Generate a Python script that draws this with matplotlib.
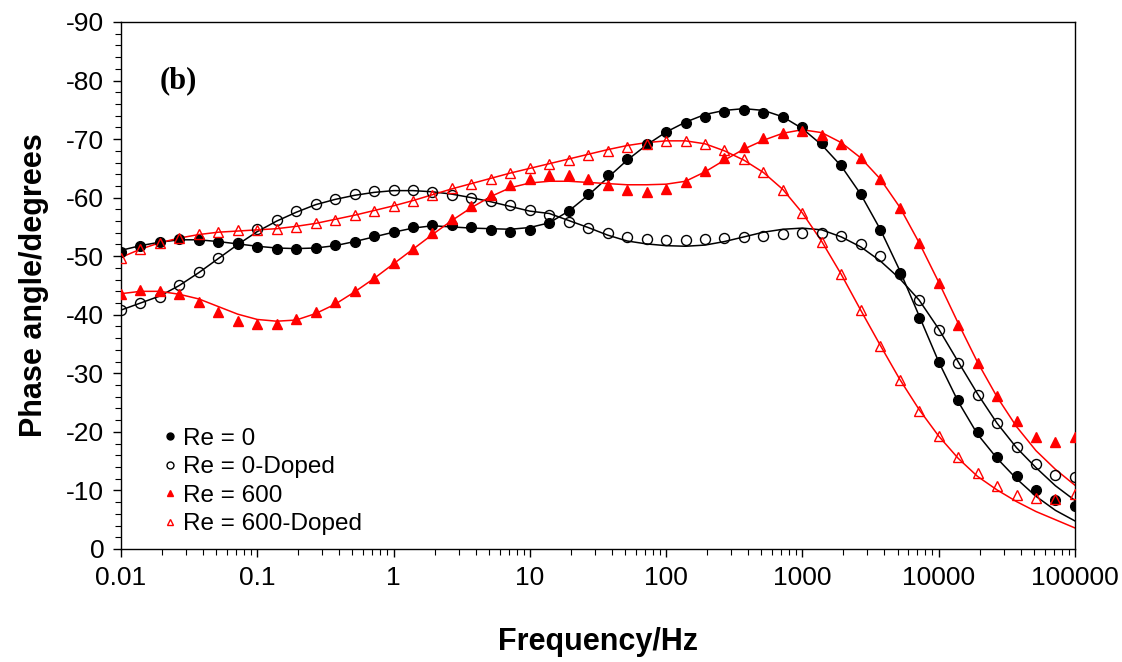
import numpy as np
import matplotlib.pyplot as plt
from matplotlib.lines import Line2D
from matplotlib.ticker import MultipleLocator, LogLocator, NullFormatter

plt.rcParams['font.family'] = ['Liberation Sans', 'DejaVu Sans']
plt.rcParams['axes.unicode_minus'] = False

# measurement frequencies, 7 points per decade
freq = [0.01, 0.0139, 0.0193, 0.0268, 0.0373, 0.0518, 0.072,
        0.1, 0.139, 0.193, 0.268, 0.373, 0.518, 0.72,
        1, 1.39, 1.93, 2.68, 3.73, 5.18, 7.2,
        10, 13.9, 19.3, 26.8, 37.3, 51.8, 72,
        100, 139, 193, 268, 373, 518, 720,
        1000, 1390, 1930, 2680, 3730, 5180, 7200,
        10000, 13900, 19300, 26800, 37300, 51800, 72000,
        100000]

# measured phase angles (degrees)
re0 = -np.array([50.8, 51.7, 52.4, 52.9, 52.7, 52.4, 52.0, 51.5, 51.3, 51.2, 51.4, 51.9,
                 52.5, 53.4, 54.2, 55.0, 55.4, 55.3, 55.0, 54.5, 54.1, 54.4,
                 55.6, 57.8, 60.6, 63.8, 66.6, 69.2, 71.2, 72.7, 73.8, 74.6, 74.9, 74.5,
                 73.7, 72.1, 69.4, 65.6, 60.6, 54.4, 47.2, 39.5,
                 32.0, 25.4, 20.0, 15.7, 12.4, 10.1, 8.4, 7.3])
re0_doped = -np.array([40.8, 42.0, 43.1, 45.1, 47.3, 49.7, 52.2, 54.6, 56.2, 57.7, 58.9, 59.8,
                       60.6, 61.1, 61.3, 61.3, 61.0, 60.4, 60.0, 59.4, 58.7, 57.9,
                       57.0, 55.8, 54.8, 53.9, 53.3, 53.0, 52.8, 52.8, 52.9, 53.1, 53.3, 53.5,
                       53.8, 54.0, 53.9, 53.5, 52.1, 50.0, 46.9, 42.5,
                       37.4, 31.8, 26.3, 21.5, 17.5, 14.5, 12.6, 12.3])
re600 = -np.array([43.5, 44.3, 44.0, 43.5, 42.2, 40.4, 39.0, 38.4, 38.5, 39.2, 40.4, 42.1,
                   44.1, 46.2, 48.8, 51.2, 53.9, 56.4, 58.6, 60.5, 62.1, 63.2,
                   63.8, 63.8, 63.1, 62.2, 61.3, 61.0, 61.4, 62.6, 64.6, 66.8, 68.7, 70.2,
                   71.1, 71.3, 70.7, 69.2, 66.7, 63.1, 58.3, 52.2,
                   45.4, 38.3, 31.7, 26.2, 21.9, 19.2, 18.2, 19.1])
re600_doped = -np.array([49.7, 51.2, 52.3, 53.1, 53.8, 54.2, 54.4, 54.5, 54.7, 55.0, 55.6, 56.2,
                         57.0, 57.8, 58.6, 59.5, 60.5, 61.6, 62.4, 63.2, 64.2, 65.0,
                         65.8, 66.4, 67.2, 68.0, 68.7, 69.1, 69.6, 69.6, 69.2, 68.1, 66.6, 64.4,
                         61.3, 57.3, 52.4, 46.9, 40.8, 34.7, 28.9, 23.6,
                         19.3, 15.7, 12.9, 10.8, 9.3, 8.7, 8.5, 9.4])

# fitted curves
fit_re0 = -np.array([51.0, 51.8, 52.4, 52.8, 52.8, 52.5, 52.1, 51.7, 51.4, 51.3, 51.4, 51.8,
                     52.5, 53.3, 54.1, 54.8, 55.2, 55.0, 54.8, 54.7, 54.6, 54.9,
                     55.7, 57.7, 60.4, 63.4, 66.4, 69.0, 71.2, 72.9, 74.2, 74.9, 75.2, 74.9,
                     73.8, 71.8, 69.0, 65.4, 60.6, 54.6, 47.6, 39.8,
                     32.0, 25.2, 19.6, 15.5, 12.0, 9.0, 6.6, 4.8])
fit_re0_doped = -np.array([40.8, 42.0, 43.2, 45.0, 47.2, 49.6, 52.0, 54.2, 56.0, 57.5, 58.8, 59.7,
                           60.4, 60.9, 61.2, 61.2, 61.0, 60.6, 60.0, 59.3, 58.5, 57.7,
                           57.3, 56.1, 54.9, 53.6, 52.6, 52.1, 51.8, 51.7, 51.9, 52.5, 53.3, 54.1,
                           54.6, 54.8, 54.5, 53.3, 51.6, 49.2, 46.2, 42.5,
                           37.6, 32.0, 26.5, 21.5, 17.3, 13.9, 10.8, 8.3])
fit_re600 = -np.array([43.6, 44.0, 44.0, 43.5, 42.7, 41.4, 40.1, 39.2, 38.9, 39.1, 40.2, 41.8,
                       43.9, 46.2, 48.7, 51.2, 53.7, 56.1, 58.3, 60.2, 61.7, 62.5,
                       62.8, 62.8, 62.6, 62.4, 62.2, 62.2, 62.3, 62.8, 64.4, 66.4, 68.3, 69.8,
                       71.0, 71.6, 71.1, 69.4, 66.8, 63.2, 58.4, 52.3,
                       45.6, 38.6, 31.9, 26.0, 20.9, 16.8, 13.6, 10.9])
fit_re600_doped = -np.array([49.8, 51.2, 52.3, 53.1, 53.7, 54.1, 54.3, 54.5, 54.7, 55.1, 55.6, 56.3,
                             57.0, 57.8, 58.6, 59.5, 60.5, 61.5, 62.4, 63.3, 64.2, 65.0,
                             65.8, 66.6, 67.4, 68.2, 68.9, 69.4, 69.7, 69.7, 69.2, 68.0, 66.4, 64.3,
                             61.4, 57.4, 52.5, 46.9, 40.8, 34.8, 29.0, 23.8,
                             19.3, 15.5, 12.4, 10.1, 8.1, 6.4, 5.0, 3.6])

labels = ["Re = 0", "Re = 0-Doped", "Re = 600", "Re = 600-Doped"]
xticks = [0.01, 0.1, 1, 10, 100, 1000, 10000, 100000]
xticklabels = ["0.01", "0.1", "1", "10", "100", "1000", "10000", "100000"]

fig, ax = plt.subplots(figsize=(11.22, 6.62), dpi=100)
fig.subplots_adjust(left=0.1078, right=0.958, bottom=0.1707, top=0.9668)

# fit lines underneath the markers
ax.plot(freq, fit_re0, color='black', lw=1.1, zorder=2)
ax.plot(freq, fit_re0_doped, color='black', lw=1.1, zorder=2)
ax.plot(freq, fit_re600, color='red', lw=1.1, zorder=2)
ax.plot(freq, fit_re600_doped, color='red', lw=1.1, zorder=2)

ax.plot(freq, re0, 'o', color='black', ms=7, ls='none', zorder=3)
ax.plot(freq, re0_doped, 'o', mfc='none', mec='black', mew=1.0, ms=7.2, ls='none', zorder=3)
ax.plot(freq, re600, '^', color='red', ms=7.5, ls='none', zorder=3)
ax.plot(freq, re600_doped, '^', mfc='none', mec='red', mew=1.0, ms=7.5, ls='none', zorder=3)

ax.set_xscale('log')
ax.set_xlim(0.01, 100000)
ax.set_ylim(0, -90)
ax.set_xticks(xticks)
ax.set_xticklabels(xticklabels)
ax.xaxis.set_minor_locator(LogLocator(base=10, subs=np.arange(2, 10)))
ax.xaxis.set_minor_formatter(NullFormatter())
ax.yaxis.set_major_locator(MultipleLocator(10))
ax.yaxis.set_minor_locator(MultipleLocator(2))
ax.tick_params(which='both', direction='out', top=False, right=False, labelsize=19)
ax.tick_params(which='major', length=6, width=1, pad=6)
ax.tick_params(which='minor', length=4, width=0.8)
for sp in ax.spines.values():
    sp.set_linewidth(1.0)

ax.set_xlabel("Frequency/Hz", fontsize=22, fontweight='bold', labelpad=27)
ax.set_ylabel("Phase angle/degrees", fontsize=22, fontweight='bold', labelpad=12)

ax.text(0.041, 0.888, "(b)", transform=ax.transAxes, family=['Liberation Serif'],
        fontweight='bold', fontsize=22, va='center')

handles = [
    Line2D([], [], marker='o', color='black', ls='none', ms=5),
    Line2D([], [], marker='o', mfc='none', mec='black', mew=1.0, ls='none', ms=5),
    Line2D([], [], marker='^', color='red', ls='none', ms=5),
    Line2D([], [], marker='^', mfc='none', mec='red', mew=1.0, ls='none', ms=5),
]
ax.legend(handles, labels, loc='lower left', bbox_to_anchor=(0.041, 0.026), frameon=False,
          fontsize=17.5, handlelength=0.8, handletextpad=0.15, labelspacing=0.27,
          borderpad=0, borderaxespad=0)

fig.savefig("out.png", dpi=100)
plt.close(fig)
